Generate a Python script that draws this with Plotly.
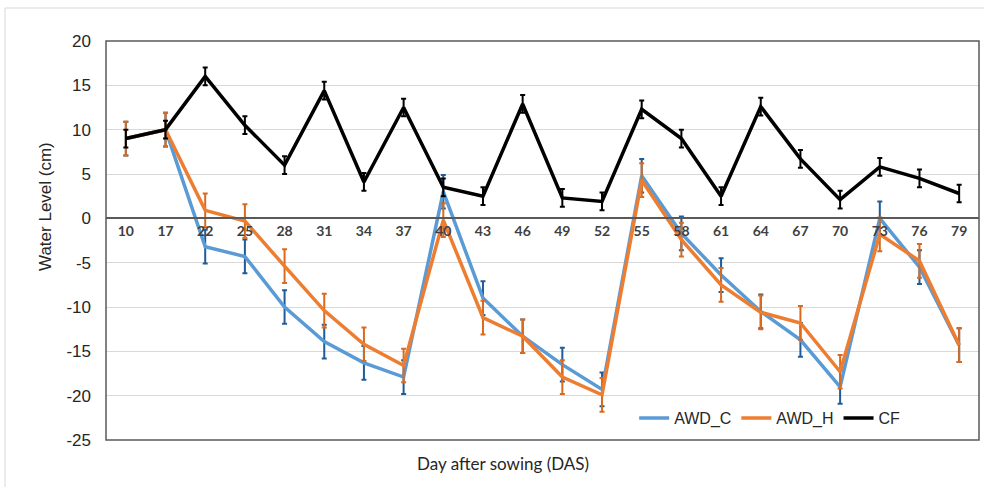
import plotly.graph_objects as go

das = ["10", "17", "22", "25", "28", "31", "34", "37", "40", "43", "46",
       "49", "52", "55", "58", "61", "64", "67", "70", "73", "76", "79"]

cf = [9.0, 10.0, 16.0, 10.5, 6.0, 14.4, 4.1, 12.5, 3.5, 2.5, 12.9,
      2.3, 1.9, 12.3, 9.0, 2.5, 12.6, 6.7, 2.1, 5.8, 4.5, 2.8]
cf_err = [1.0] * 22

awd_c = [9.0, 10.0, -3.2, -4.3, -10.0, -13.9, -16.3, -17.9, 3.0, -9.0, -13.3,
         -16.5, -19.3, 4.8, -1.7, -6.4, -10.5, -13.7, -19.0, 0.0, -5.5, -14.3]
awd_c_err = [1.9] * 22

awd_h = [9.0, 10.0, 0.9, -0.3, -5.4, -10.4, -14.2, -16.6, -0.2, -11.2, -13.3,
         -17.9, -19.9, 4.3, -2.4, -7.5, -10.6, -11.8, -17.3, -1.8, -4.8, -14.3]
awd_h_err = [1.9] * 22

y_tickvals = [20, 15, 10, 5, 0, -5, -10, -15, -20, -25]
y_ticktext = ["20", "15", "10", "5", "0", "-5", "-10", "-15", "-20", "-25"]

fig = go.Figure()
fig.add_trace(go.Scatter(
    x=das, y=awd_c, name="AWD_C", mode="lines",
    line=dict(color="#5B9BD5", width=3.5),
    error_y=dict(type="data", array=awd_c_err, color="#1F5C99", thickness=2, width=2.5),
))
fig.add_trace(go.Scatter(
    x=das, y=awd_h, name="AWD_H", mode="lines",
    line=dict(color="#ED7D31", width=3.5),
    error_y=dict(type="data", array=awd_h_err, color="#D96A1E", thickness=2, width=2.5),
))
fig.add_trace(go.Scatter(
    x=das, y=cf, name="CF", mode="lines",
    line=dict(color="#000000", width=3.5),
    error_y=dict(type="data", array=cf_err, color="#000000", thickness=2, width=2.5),
))

fig.update_layout(
    width=984, height=487,
    margin=dict(l=106, r=5, t=41, b=47),
    paper_bgcolor="white", plot_bgcolor="white",
    font=dict(family="Liberation Sans, Arial, sans-serif", color="#262626"),
    showlegend=True,
    legend=dict(
        orientation="h", x=0.605, y=0.055, xanchor="left", yanchor="middle",
        font=dict(size=16, color="#262626"), bgcolor="rgba(0,0,0,0)",
        itemwidth=30, tracegroupgap=0,
    ),
    xaxis=dict(
        type="category", anchor="free", position=25 / 45,
        range=[-0.5, len(das) - 0.5],
        showline=True, linecolor="#595959", linewidth=1.5,
        showgrid=False, ticks="",
        tickfont=dict(family="Lato, sans-serif", size=14, color="#404040", weight="bold"),
    ),
    yaxis=dict(
        range=[-25, 20], tickvals=y_tickvals, ticktext=y_ticktext,
        showgrid=True, gridcolor="#d9d9d9", gridwidth=1,
        zeroline=False, showline=False, ticks="",
        ticklabelstandoff=14,
        tickfont=dict(size=17, color="#262626"),
    ),
    shapes=[
        dict(type="rect", xref="paper", yref="paper", x0=0, x1=1, y0=0, y1=1,
             line=dict(color="#595959", width=1.5), layer="above"),
        dict(type="line", xref="paper", yref="paper", x0=-101 / 873, x1=1.02,
             y0=(487 - 47 - 8) / 399, y1=(487 - 47 - 8) / 399,
             line=dict(color="#d9d9d9", width=1)),
        dict(type="line", xref="paper", yref="paper", x0=-101 / 873, x1=-101 / 873,
             y0=-0.2, y1=(487 - 47 - 8) / 399,
             line=dict(color="#d9d9d9", width=1)),
    ],
    annotations=[
        dict(text="Day after sowing (DAS)", xref="paper", yref="paper",
             x=0.455, y=-0.028, xanchor="center", yanchor="top", showarrow=False,
             font=dict(family="Lato, sans-serif", size=17, color="#262626")),
        dict(text="Water Level (cm)", xref="paper", yref="paper", textangle=-90,
             x=-61 / 873, y=(440 - 207) / 399, xanchor="center", yanchor="middle",
             showarrow=False, font=dict(size=17, color="#262626")),
    ],
)

fig.write_html("out.html", config={"displayModeBar": False},
               post_script="document.body.style.margin='0';")
